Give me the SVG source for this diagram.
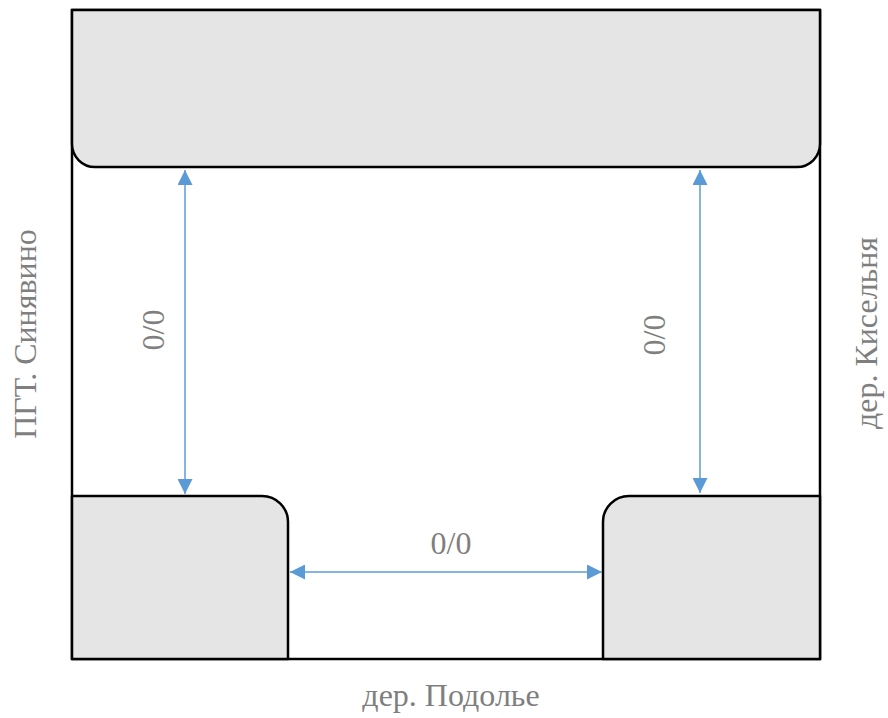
<svg xmlns="http://www.w3.org/2000/svg" width="888" height="718" viewBox="0 0 888 718">
<defs>
<style>
.blk{fill:#e5e5e5;stroke:#000;stroke-width:2.5;stroke-linejoin:round}
.frame{fill:none;stroke:#000;stroke-width:2.5}
.con{stroke:#5b9bd5;stroke-width:1.5;fill:none;marker-start:url(#ah);marker-end:url(#ah)}
.lbl{font-family:"Liberation Serif","Times New Roman",serif;font-size:32px;fill:#7f7f7f;text-anchor:middle}
</style>
<marker id="ah" viewBox="0 0 10 10" refX="10" refY="5" markerWidth="15" markerHeight="15" markerUnits="userSpaceOnUse" orient="auto-start-reverse">
<path d="M0,0 L10,5 L0,10 Z" fill="#5b9bd5"/>
</marker>
</defs>
<rect id="frame" class="frame" x="72" y="10" width="748" height="649"/>
<g id="top-block"><path class="blk" d="M72,10 H820 V144 A23,23 0 0 1 797,167 H95 A23,23 0 0 1 72,144 Z"/></g>
<g id="bottom-left-block"><path class="blk" d="M72,659 V496 H262 A26,26 0 0 1 288,522 V659 Z"/></g>
<g id="bottom-right-block"><path class="blk" d="M603,659 V522 A26,26 0 0 1 629,496 H820 V659 Z"/></g>
<g id="connectors">
<line class="con" x1="185" y1="170" x2="185" y2="494"/>
<line class="con" x1="700" y1="170" x2="700" y2="493"/>
<line class="con" x1="290" y1="572" x2="602" y2="572"/>
</g>
<g id="labels">
<text class="lbl" transform="translate(164,330) rotate(-90)">0/0</text>
<text class="lbl" transform="translate(665,335) rotate(-90)">0/0</text>
<text class="lbl" x="451" y="554">0/0</text>
<text class="lbl" transform="translate(36,334) rotate(-90)">ПГТ. Синявино</text>
<text class="lbl" transform="translate(877,333) rotate(-90)">дер. Кисельня</text>
<text class="lbl" x="451" y="706">дер. Подолье</text>
</g>
</svg>
